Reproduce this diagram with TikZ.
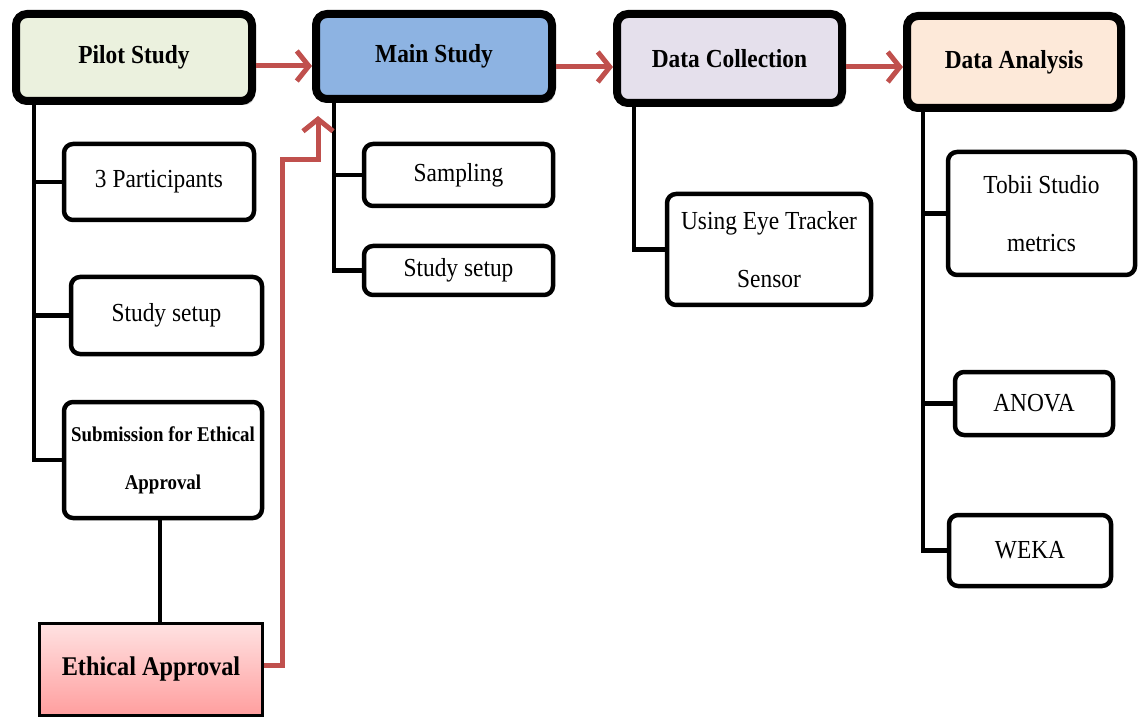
\documentclass[tikz,border=0pt]{standalone}
\usepackage{fontspec}
\setmainfont{Liberation Serif}[FakeStretch=0.9]
\usetikzlibrary{arrows.meta,shadows}
\definecolor{pilotfill}{HTML}{EBF1DE}
\definecolor{mainfill}{HTML}{8DB3E2}
\definecolor{dcfill}{HTML}{E5E0EC}
\definecolor{dafill}{HTML}{FDE9D9}
\definecolor{eatop}{HTML}{FFE2E2}
\definecolor{eabot}{HTML}{FF9E9E}
\definecolor{arrowred}{HTML}{C0504D}
\begin{document}
\begin{tikzpicture}[x=1pt,y=-1pt,
  topbox/.style={draw=black,line width=8pt,rounded corners=11pt,inner sep=0pt,
    font=\fontsize{26}{30}\bfseries\selectfont,
    drop shadow={shadow xshift=3pt,shadow yshift=-4pt,fill=black!45,opacity=0.55}},
  subbox/.style={draw=black,line width=4.5pt,rounded corners=9pt,fill=white,inner sep=0pt,
    align=center,font=\fontsize{26}{58}\selectfont},
  tree/.style={line width=4.5pt,draw=black},
  flow/.style={line width=5pt,draw=arrowred,-{Straight Barb[length=12pt,width=30pt]}}]
\useasboundingbox (0,0) rectangle (1138,719);
\fill[white] (0,0) rectangle (1138,719);

% top row
\node[topbox,fill=pilotfill,minimum width=236pt,minimum height=87pt] (pilot) at (134,57.5) {Pilot Study};
\node[topbox,fill=mainfill,minimum width=236pt,minimum height=85pt] (main) at (434,56.5) {Main Study};
\node[topbox,fill=dcfill,minimum width=225pt,minimum height=89pt] (dc) at (729.5,58.5) {Data Collection};
\node[topbox,fill=dafill,minimum width=214pt,minimum height=92pt] (da) at (1014,62) {Data Analysis};

% sub boxes
\node[subbox,minimum width=190pt,minimum height=76pt] (p3) at (159,182) {3 Participants};
\node[subbox,minimum width=191pt,minimum height=77pt] (ss1) at (166.5,315.5) {Study setup};
\node[subbox,minimum width=198pt,minimum height=116pt,font=\fontsize{21}{48}\bfseries\selectfont] (sub) at (163,460) {Submission for Ethical\\Approval};
\node[draw=black,line width=2.5pt,top color=eatop,bottom color=eabot,inner sep=0pt,
  minimum width=223pt,minimum height=92pt,font=\fontsize{27}{30}\bfseries\selectfont] (ea) at (151,669.5) {Ethical Approval};

\node[subbox,minimum width=189pt,minimum height=62pt] (samp) at (458.5,175) {Sampling};
\node[subbox,minimum width=189pt,minimum height=49pt] (ss2) at (458.5,270.5) {Study setup};

\node[subbox,minimum width=204pt,minimum height=111pt] (eye) at (769,249.5) {Using Eye Tracker\\Sensor};

\node[subbox,minimum width=187pt,minimum height=123pt] (tobii) at (1041.5,213.5) {Tobii Studio\\metrics};
\node[subbox,minimum width=158pt,minimum height=63pt] (anova) at (1034,403.5) {ANOVA};
\node[subbox,minimum width=162pt,minimum height=71pt] (weka) at (1030,550.5) {WEKA};

% tree connectors
\begin{scope}[on background layer/.style={}]
\draw[tree] ([xshift=22pt]pilot.south west) |- (p3.west);
\draw[tree] ([xshift=22pt]pilot.south west) |- (ss1.west);
\draw[tree] ([xshift=22pt]pilot.south west) |- (sub.west);
\draw[tree] ([xshift=-3pt]sub.south) -- ([xshift=-3pt]sub.south |- ea.north);
\draw[tree] ([xshift=22pt]main.south west) |- (samp.west);
\draw[tree] ([xshift=22pt]main.south west) |- (ss2.west);
\draw[tree] ([xshift=21pt]dc.south west) |- (eye.west);
\draw[tree] ([xshift=20pt]da.south west) |- (tobii.west);
\draw[tree] ([xshift=20pt]da.south west) |- (anova.west);
\draw[tree] ([xshift=20pt]da.south west) |- (weka.west);
\end{scope}

% flow arrows
\draw[flow] (pilot.east |- 0,66) -- (main.west |- 0,66);
\draw[flow] (main.east |- 0,67) -- (dc.west |- 0,67);
\draw[flow] (dc.east |- 0,67) -- (da.west |- 0,67);
\coordinate (bend) at (282,160);
\coordinate (tipEA) at (318,116);
\draw[flow] ([yshift=4pt]ea.east) -| (bend) -| (tipEA);
\end{tikzpicture}
\end{document}
